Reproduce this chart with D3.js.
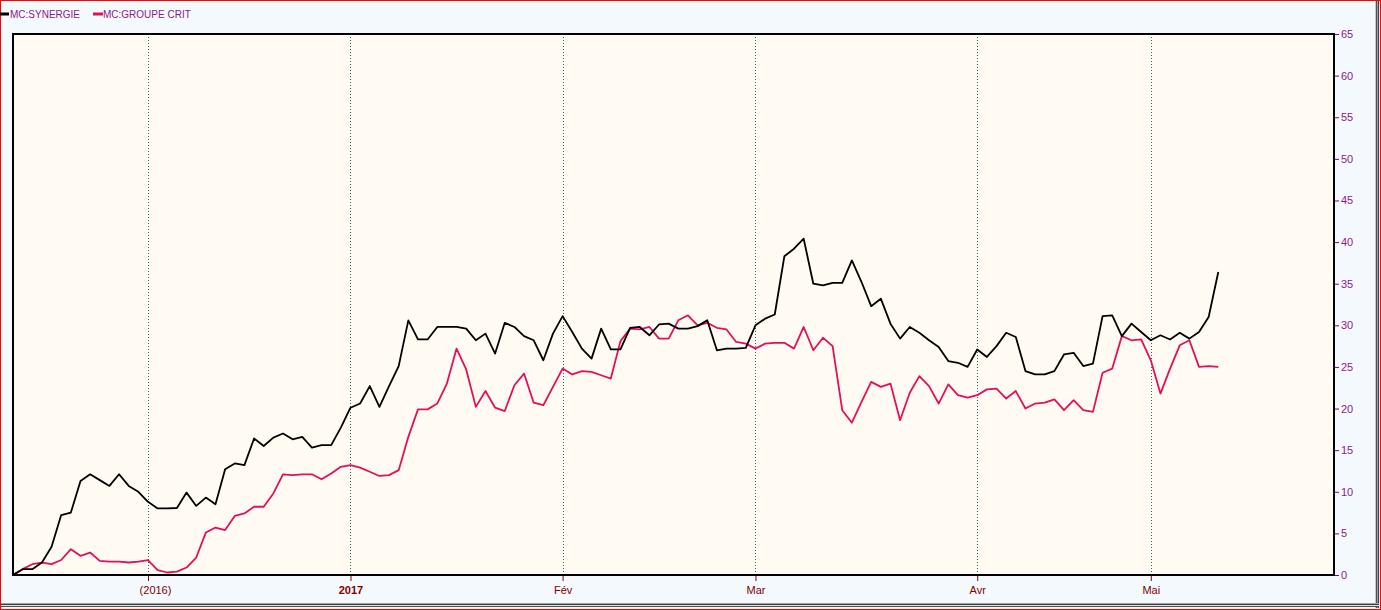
<!DOCTYPE html>
<html>
<head>
<meta charset="utf-8">
<script src="https://cdn.jsdelivr.net/npm/d3@7"></script>
<style>
  html, body { margin: 0; padding: 0; background: #F4F9FD; }
  svg { display: block; }
  text { font-family: "Liberation Sans", Arial, sans-serif; }
</style>
</head>
<body>
<svg id="chart" width="1381" height="610"></svg>
<script>
// ---- data (performance in %, one point per trading day) ----
const seriesNames = ["MC:SYNERGIE", "MC:GROUPE CRIT"];
const synergie = [
  0, 0.7, 0.7, 1.5, 3.4, 7.2, 7.5, 11.3, 12.1, 11.4, 10.7, 12.1, 10.7, 10.0, 8.8,
  8.0, 8.0, 8.05, 9.9, 8.3, 9.3, 8.5, 12.7, 13.4, 13.2, 16.4, 15.5, 16.5, 17.0, 16.3,
  16.6, 15.3, 15.6, 15.6, 17.7, 20.1, 20.6, 22.7, 20.2, 22.7, 25.1, 30.6, 28.3, 28.3, 29.8,
  29.8, 29.8, 29.6, 28.2, 29.0, 26.6, 30.3, 29.8, 28.7, 28.2, 25.8, 29.0, 31.1, 29.2, 27.2,
  26.0, 29.6, 27.1, 27.1, 29.7, 29.8, 28.8, 30.1, 30.2, 29.6, 29.6, 29.9, 30.6, 27.0, 27.2,
  27.2, 27.3, 30.0, 30.8, 31.3, 38.3, 39.2, 40.4, 35.0, 34.8, 35.1, 35.1, 37.8, 35.2, 32.3,
  33.2, 30.2, 28.4, 29.8, 29.1, 28.2, 27.4, 25.7, 25.5, 25.0, 27.1, 26.2, 27.5, 29.1, 28.6,
  24.5, 24.1, 24.1, 24.5, 26.5, 26.7, 25.1, 25.4, 31.1, 31.2, 28.7, 30.2, 29.2, 28.2, 28.8,
  28.3, 29.1, 28.4, 29.2, 31.0, 36.4
];
const groupeCrit = [
  0, 0.7, 1.3, 1.5, 1.3, 1.8, 3.1, 2.3, 2.7, 1.7, 1.6, 1.6, 1.5, 1.6, 1.8,
  0.6, 0.3, 0.4, 0.9, 2.1, 5.1, 5.7, 5.4, 7.1, 7.4, 8.2, 8.2, 9.8, 12.1, 12.0,
  12.1, 12.1, 11.5, 12.2, 13.0, 13.2, 12.9, 12.4, 11.9, 12.0, 12.6, 16.6, 19.9, 19.9, 20.6,
  23.0, 27.2, 24.7, 20.2, 22.1, 20.1, 19.7, 22.8, 24.2, 20.7, 20.4, 22.6, 24.8, 24.1, 24.5,
  24.4, 24.0, 23.6, 28.1, 29.6, 29.5, 29.8, 28.4, 28.4, 30.6, 31.2, 30.0, 30.3, 29.7, 29.5,
  28.0, 27.8, 27.2, 27.8, 27.9, 27.9, 27.2, 29.8, 27.0, 28.5, 27.5, 19.8, 18.3, 20.8, 23.2,
  22.6, 23.0, 18.6, 21.9, 23.9, 22.7, 20.6, 22.9, 21.6, 21.3, 21.6, 22.3, 22.4, 21.2, 22.1,
  20.0, 20.6, 20.7, 21.1, 19.8, 21.0, 19.8, 19.6, 24.3, 24.8, 28.7, 28.2, 28.3, 25.8, 21.8,
  24.8, 27.6, 28.2, 25.0, 25.1, 25.0
];
// x ticks: label and trading-day index where month starts
const xTickLabels = ["(2016)", "2017", "Fév", "Mar", "Avr", "Mai"];
const xTickIndex = [14, 35, 57, 77, 100, 118];
const yTicks = [0, 5, 10, 15, 20, 25, 30, 35, 40, 45, 50, 55, 60, 65];
const xMax = 137; // trading-day slots across the plot

// ---- layout ----
const W = 1381, H = 610;
const plot = { left: 13, right: 1334, top: 34, bottom: 575 };
const svg = d3.select("#chart");

// outer frame
svg.append("rect").attr("x", 0).attr("y", 0).attr("width", W).attr("height", H).attr("fill", "#F4F9FD");
// right/bottom gray double bevel
const bevel = svg.append("g");
[[1375, "#C8C8C8"], [1376, "#505050"], [1377, "#A0A0A0"], [1378, "#404040"]].forEach(([x, c]) =>
  bevel.append("line").attr("x1", x + 0.5).attr("x2", x + 0.5).attr("y1", 0).attr("y2", 608).attr("stroke", c));
[[603, "#A0A0A0"], [604, "#404040"], [605, "#E0E0E0"], [606, "#505050"]].forEach(([y, c]) =>
  bevel.append("line").attr("x1", 0).attr("x2", 1379).attr("y1", y + 0.5).attr("y2", y + 0.5).attr("stroke", c));
svg.append("rect").attr("x", 0.5).attr("y", 0.5).attr("width", W - 1).attr("height", H - 1)
  .attr("fill", "none").attr("stroke", "#FF0000");

const x = d3.scaleLinear().domain([0, xMax]).range([plot.left, plot.right]);
const y = d3.scaleLinear().domain([0, 65]).range([plot.bottom, plot.top]);

// plot background
svg.append("rect").attr("x", plot.left).attr("y", plot.top)
  .attr("width", plot.right - plot.left).attr("height", plot.bottom - plot.top)
  .attr("fill", "#FFFAF2");

// vertical dotted gridlines
svg.append("g").selectAll("line").data(xTickIndex).join("line")
  .attr("x1", d => Math.round(x(d)) + 0.5).attr("x2", d => Math.round(x(d)) + 0.5)
  .attr("y1", plot.top).attr("y2", plot.bottom)
  .attr("stroke", "#16706F").attr("stroke-width", 1).attr("stroke-dasharray", "1,2");

// lines
const line = d3.line().x((d, i) => x(i)).y(d => y(d));
svg.append("path").datum(groupeCrit).attr("d", line)
  .attr("fill", "none").attr("stroke", "#E2105A").attr("stroke-width", 1.8).attr("stroke-linejoin", "round");
svg.append("path").datum(synergie).attr("d", line)
  .attr("fill", "none").attr("stroke", "#000000").attr("stroke-width", 1.8).attr("stroke-linejoin", "round");

// plot border
svg.append("rect").attr("x", plot.left).attr("y", plot.top)
  .attr("width", plot.right - plot.left).attr("height", plot.bottom - plot.top)
  .attr("fill", "none").attr("stroke", "#000").attr("stroke-width", 2);

// right y axis
const yAxis = d3.axisRight(y).tickValues(yTicks).tickSize(4).tickPadding(2);
const gy = svg.append("g").attr("transform", `translate(${plot.right + 1},0)`).call(yAxis);
gy.select(".domain").remove();
gy.selectAll(".tick line").attr("stroke", "#800080");
gy.selectAll(".tick text").attr("fill", "#8A1A8A").attr("font-size", 11)
  .attr("font-family", "Liberation Sans, Arial, sans-serif");

// bottom x axis
const xAxis = d3.axisBottom(x).tickValues(xTickIndex)
  .tickFormat((d, i) => xTickLabels[i]).tickSize(5).tickPadding(5);
const gx = svg.append("g").attr("transform", `translate(0,${plot.bottom + 1})`).call(xAxis);
gx.select(".domain").remove();
gx.selectAll(".tick line").attr("stroke", "#800000");
gx.selectAll(".tick text").attr("fill", "#800000").attr("font-size", 11)
  .attr("font-family", "Liberation Sans, Arial, sans-serif")
  .attr("dx", (d, i) => xTickLabels[i].startsWith("(") ? 7 : 0)
  .attr("font-weight", (d, i) => xTickLabels[i] === "2017" ? "bold" : "normal");

// legend
const legendColors = ["#000000", "#E2105A"];
const legendX = [0, 93];
const lg = svg.append("g");
seriesNames.forEach((name, i) => {
  lg.append("rect").attr("x", legendX[i]).attr("y", 12.5).attr("width", i === 0 ? 9 : 10).attr("height", 3)
    .attr("fill", legendColors[i]);
  lg.append("text").attr("x", legendX[i] + 10).attr("y", 18)
    .attr("font-size", 10).attr("fill", "#8A1A8A").text(name);
});
</script>
</body>
</html>
